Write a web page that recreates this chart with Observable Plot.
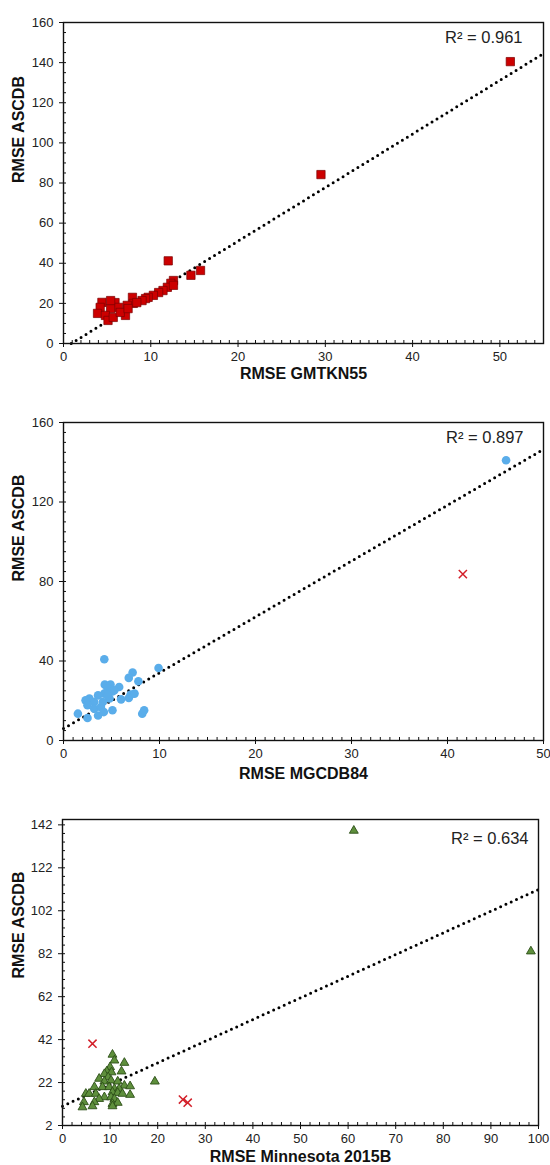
<!DOCTYPE html>
<html><head><meta charset="utf-8">
<script src="https://cdn.jsdelivr.net/npm/d3@7"></script>
<script src="https://cdn.jsdelivr.net/npm/@observablehq/plot@0.6"></script>
<style>
body{margin:0;background:#fff;}
#chart{width:550px;}
#chart svg{display:block;overflow:visible;}
</style></head><body><div id="chart"></div>
<script>
// Panel 1: GMTKN55 vs ASCDB
const gmtkn55 = [51.2, 29.5, 12.0, 14.6, 15.7, 12.6, 12.3, 11.9, 11.4, 10.9, 10.3, 9.7, 9.4, 9.0, 7.9, 8.0, 7.3, 7.1, 5.9, 6.3, 5.4, 4.4, 4.2, 3.9, 4.8, 5.1, 5.7, 6.5, 7.4, 8.4, 5.4, 12.6];
const ascdb1  = [140.5, 84.2, 41.2, 34.0, 36.4, 31.4, 30.0, 28.0, 26.4, 25.4, 24.0, 23.0, 22.4, 21.4, 23.0, 20.0, 19.0, 14.0, 20.4, 18.0, 17.4, 20.5, 18.0, 15.0, 14.0, 11.5, 13.0, 15.5, 17.4, 20.4, 21.4, 29.0];
const fit1 = {intercept: -2.35, slope: 2.67, x0: 0.88, x1: 55};

// Panel 2: MGCDB84 vs ASCDB
const mgcdb84 = [46.1, 4.25, 9.9, 7.2, 6.8, 7.8, 4.3, 4.9, 5.8, 4.6, 5.1, 4.25, 7.0, 7.4, 6.8, 6.0, 3.6, 2.7, 2.3, 3.2, 2.5, 4.1, 4.8, 3.2, 3.9, 1.5, 2.5, 3.6, 4.2, 5.1, 8.2, 8.4, 4.6, 5.3];
const ascdb2  = [141, 40.9, 36.5, 34.2, 31.5, 29.8, 28.1, 28.1, 26.9, 26.1, 24.7, 23.6, 23.1, 23.6, 21.4, 20.7, 22.7, 21.1, 20.2, 19.4, 17.7, 19.4, 21.1, 16.0, 16.8, 13.5, 11.3, 12.6, 14.3, 15.2, 13.5, 15.2, 22.7, 25.3];
const out2x = [41.6];
const out2y = [83.7];
const fit2 = {intercept: 6.0, slope: 2.81, x0: 0, x1: 50};

// Panel 3: Minnesota 2015B vs ASCDB
const minnesota = [61.2, 98.4, 19.4, 10.5, 10.9, 13.0, 12.4, 10.0, 9.3, 8.8, 10.3, 9.6, 7.7, 8.8, 10.2, 11.6, 13.0, 14.2, 6.7, 8.4, 9.8, 10.9, 11.9, 10.5, 11.6, 12.6, 14.2, 4.9, 5.6, 7.0, 8.8, 7.7, 10.2, 10.9, 4.5, 6.7, 10.5, 11.6, 4.2, 6.3, 10.5];
const ascdb3    = [139.3, 83.1, 22.5, 35.0, 32.3, 31.2, 27.2, 29.2, 27.2, 26.0, 26.8, 24.5, 23.8, 22.5, 23.0, 22.5, 20.6, 20.3, 19.9, 19.9, 19.9, 19.1, 19.1, 17.5, 17.2, 16.8, 16.3, 16.8, 16.8, 16.8, 15.2, 14.4, 15.2, 14.4, 12.9, 12.9, 12.1, 12.6, 10.5, 11.0, 11.0];
const out3x = [6.3, 25.3, 26.3];
const out3y = [40.1, 14.1, 12.6];
const fit3 = {intercept: 11.0, slope: 1.009, x0: 0, x1: 100};

const yTitle = "RMSE ASCDB";
const xTitles = ["RMSE GMTKN55", "RMSE MGCDB84", "RMSE Minnesota 2015B"];
const r2Labels = ["R\u00B2 = 0.961", "R\u00B2 = 0.897", "R\u00B2 = 0.634"];

const FONT = "'Liberation Sans', Arial, Helvetica, sans-serif";

function panel(o) {
  const pts = o.xs.map((x, i) => ({x, y: o.ys[i]}));
  const out = (o.ox || []).map((x, i) => ({x, y: o.oy[i]}));
  const fitPts = [o.fit.x0, o.fit.x1].map(x => ({x, y: o.fit.intercept + o.fit.slope * x}));
  const W = 550 - o.ml - o.mr, H = o.height - o.mt - o.mb;
  return Plot.plot({
    width: 550, height: o.height,
    marginTop: o.mt, marginBottom: o.mb, marginLeft: o.ml, marginRight: o.mr,
    style: {fontFamily: FONT, fontSize: "13px", color: "#222", background: "#fff"},
    x: {domain: o.xDomain},
    y: {domain: o.yDomain},
    marks: [
      Plot.ruleX(o.xMinor, {stroke: "#111", strokeWidth: 1, insetTop: H - 3}),
      Plot.ruleY(o.yMinor, {stroke: "#111", strokeWidth: 1, insetRight: W - 3}),
      Plot.axisX(o.xTicks, {tickSize: 4, tickPadding: 4, label: null, fontSize: 13, stroke: "#111"}),
      Plot.axisY(o.yTicks, {tickSize: 4, tickPadding: 6, label: null, fontSize: 13, stroke: "#111"}),
      Plot.line(fitPts, {x: "x", y: "y", stroke: "black", strokeWidth: 3, strokeDasharray: "0 5.8", strokeLinecap: "round"}),
      Plot.dot(pts, {x: "x", y: "y", symbol: o.symbol, fill: o.fill, stroke: o.stroke, strokeWidth: o.sw, r: o.r}),
      Plot.dot(out, {x: "x", y: "y", symbol: "times", stroke: "#d3202a", strokeWidth: 1.5, r: 3.8}),
      Plot.frame({stroke: "#111", strokeWidth: 1.4}),
      Plot.text([o.xTitle], {frameAnchor: "bottom", lineAnchor: "middle", dy: o.xdy, fontWeight: "bold", fontSize: 16, fill: "#111"}),
      Plot.text([yTitle], {frameAnchor: "left", rotate: -90, dx: o.ydx, dy: o.ydy || 0, fontWeight: "bold", fontSize: 16, fill: "#111"}),
      Plot.text([o.r2], {frameAnchor: "top-right", textAnchor: "end", lineAnchor: "middle", dx: o.r2dx, dy: o.r2dy, fontSize: 16.5, fill: "#222"})
    ]
  });
}

const range = (a, b, s) => d3.range(a, b + s / 2, s);

const chart = document.getElementById("chart");
chart.append(panel({
  xs: gmtkn55, ys: ascdb1, fit: fit1,
  height: 390, mt: 22, mb: 47, ml: 63, mr: 7,
  xDomain: [0, 55], yDomain: [0, 160],
  xTicks: range(0, 50, 10), yTicks: range(0, 160, 20),
  xMinor: range(0, 55, 1), yMinor: range(0, 160, 5),
  symbol: "square", fill: "#cc0000", stroke: "#7a0000", sw: 0.7, r: 4.7,
  xTitle: xTitles[0], xdy: 30, ydx: -45, r2: r2Labels[0], r2dx: -21, r2dy: 15
}));
chart.append(panel({
  xs: mgcdb84, ys: ascdb2, ox: out2x, oy: out2y, fit: fit2,
  height: 397, mt: 32, mb: 47, ml: 63, mr: 7,
  xDomain: [0, 50], yDomain: [0, 160],
  xTicks: range(0, 50, 10), yTicks: range(0, 160, 40),
  xMinor: range(0, 50, 1), yMinor: range(0, 160, 5),
  symbol: "circle", fill: "#5aadea", stroke: "none", sw: 0, r: 4.3,
  xTitle: xTitles[1], xdy: 33, ydx: -45, r2: r2Labels[1], r2dx: -20, r2dy: 15
}));
chart.append(panel({
  xs: minnesota, ys: ascdb3, ox: out3x, oy: out3y, fit: fit3,
  height: 378, mt: 32, mb: 40, ml: 62, mr: 12,
  xDomain: [0, 100], yDomain: [2, 144.5],
  xTicks: range(0, 100, 10), yTicks: range(2, 142, 20),
  xMinor: range(0, 100, 2), yMinor: range(2, 142, 4),
  symbol: "triangle", fill: "#5e8f3c", stroke: "#2c4f17", sw: 0.9, r: 3.3,
  xTitle: xTitles[2], xdy: 31, ydx: -44, ydy: 6, r2: r2Labels[2], r2dx: -10, r2dy: 19
}));
</script></body></html>
